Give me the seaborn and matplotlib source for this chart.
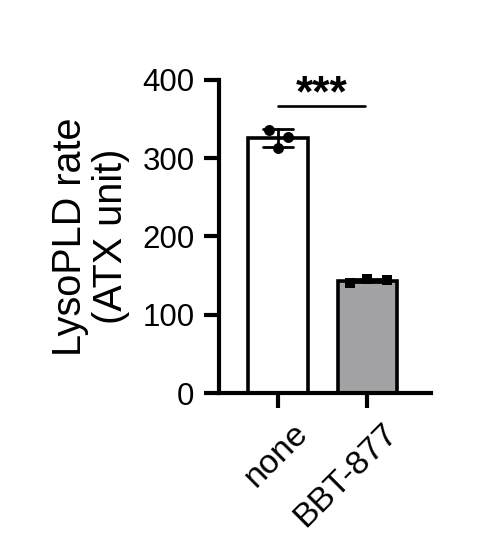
import matplotlib
matplotlib.use('Agg')
import matplotlib.pyplot as plt
import matplotlib.transforms as mtransforms
import seaborn as sns
import pandas as pd

# values
groups = ['none', 'BBT-877']
none_vals = [336, 327, 313]
bbt_vals = [141, 145, 144]
bar_colors = ['#ffffff', '#a3a3a7']
y_ticks = [0, 100, 200, 300, 400]
y_label = 'LysoPLD rate\n(ATX unit)'
sig_text = '***'
sig_level = 367

# horizontal spread of the replicate dots (style only)
dot_offsets = [[-0.10, 0.11, 0.0], [-0.20, 0.0, 0.22]]
dot_markers = ['o', 's']

df = pd.DataFrame({
    'group': [groups[0]] * len(none_vals) + [groups[1]] * len(bbt_vals),
    'rate': none_vals + bbt_vals,
})

sns.set_style('ticks')
plt.rcParams['font.family'] = ['Liberation Sans', 'DejaVu Sans']
plt.rcParams['text.color'] = 'black'
plt.rcParams['axes.labelcolor'] = 'black'
plt.rcParams['xtick.color'] = 'black'
plt.rcParams['ytick.color'] = 'black'
plt.rcParams['axes.edgecolor'] = 'black'

fig = plt.figure(figsize=(4.8, 5.47), dpi=100)
ax = fig.add_axes([0.456, 0.2815, 0.442, 0.5725])

sns.barplot(data=df, x='group', y='rate', order=groups, hue='group',
            palette=bar_colors, legend=False, width=0.66,
            edgecolor='black', linewidth=2.6, errorbar='sd', capsize=0.34,
            err_kws={'color': 'black', 'linewidth': 2.0}, ax=ax)

for i, vals in enumerate([none_vals, bbt_vals]):
    xs = [i + o for o in dot_offsets[i]]
    ax.scatter(xs, vals, marker=dot_markers[i], s=62, color='black',
               zorder=5, linewidths=0)

# significance bar
ax.plot([0, 0.97], [sig_level, sig_level], color='black', lw=1.9,
        clip_on=False)
ax.text(0.485, 366, sig_text, ha='center', va='baseline',
        fontsize=32, fontweight='bold', clip_on=False)

ax.set_xlim(-0.66, 1.71)
ax.set_ylim(0, 400)
ax.set_yticks(y_ticks)
ax.set_xlabel('')
ax.set_ylabel(y_label, fontsize=28.5, labelpad=9, linespacing=1.1)

sns.despine(ax=ax)
for side in ['left', 'bottom']:
    ax.spines[side].set_linewidth(3)
ax.tick_params(axis='both', width=3, length=10.5, labelsize=22.5, pad=7)
shift = mtransforms.ScaledTranslation(14 / 100, 0, fig.dpi_scale_trans)
for lab in ax.get_xticklabels():
    lab.set_fontsize(24.5)
    lab.set_rotation(45)
    lab.set_ha('right')
    lab.set_va('top')
    lab.set_rotation_mode('anchor')
    lab.set_transform(lab.get_transform() + shift)

fig.savefig('out.png', dpi=100)
